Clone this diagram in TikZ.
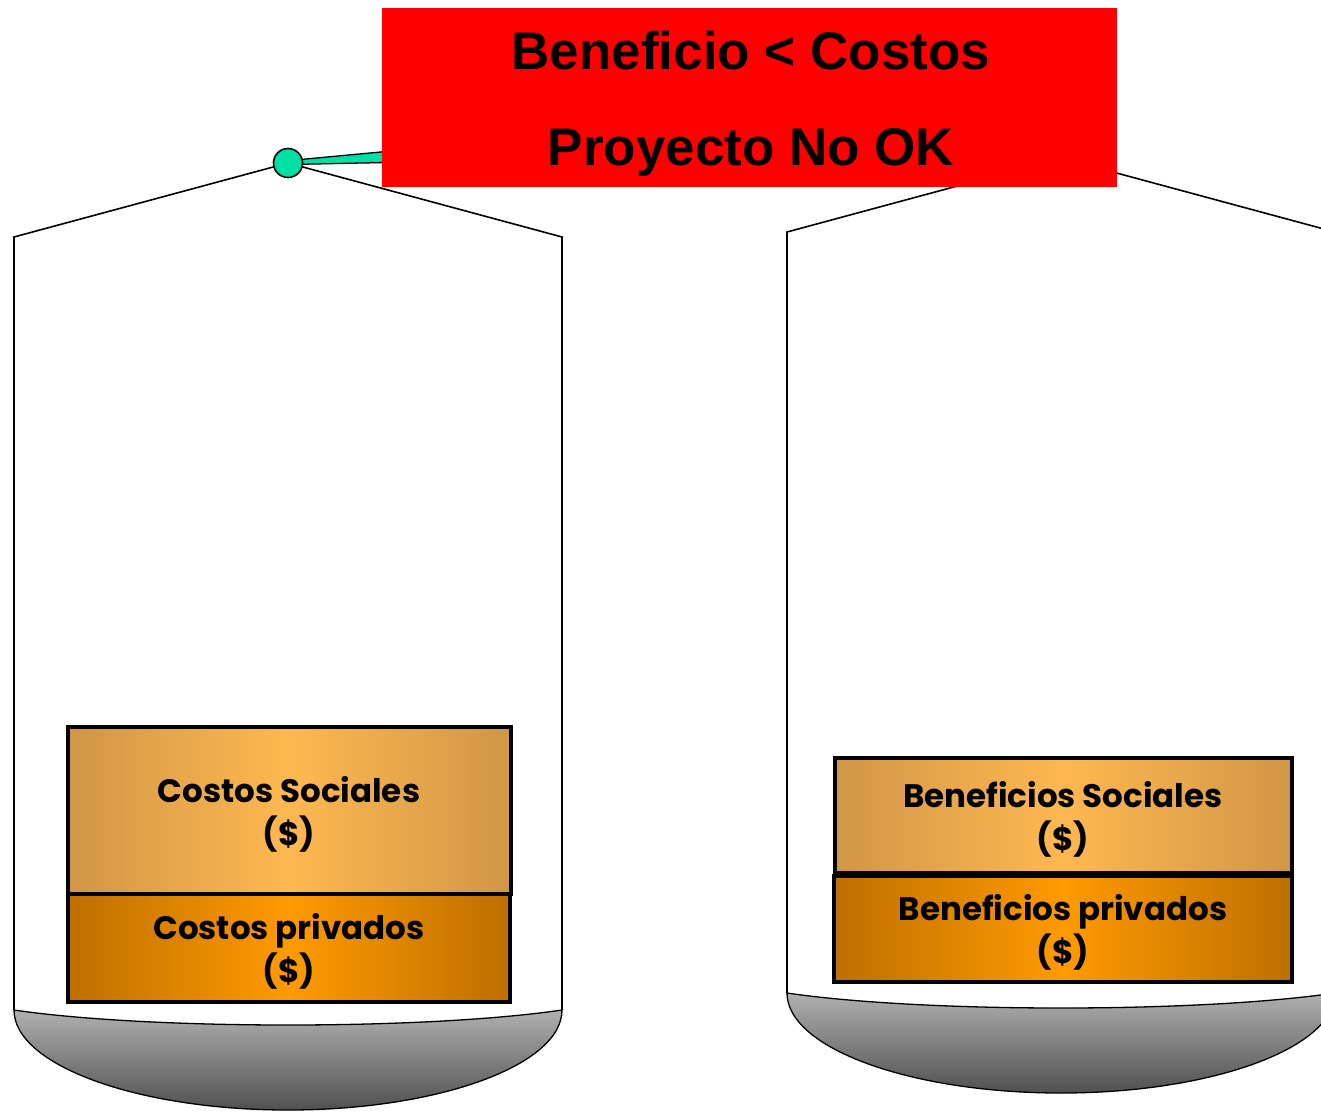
\documentclass[tikz,border=0pt]{standalone}
\usepackage{fontspec}
\newfontfamily\arialf{Liberation Sans}
\newfontfamily\futf{Poppins}
\definecolor{bowltop}{HTML}{B0B0B0}
\definecolor{bowlbot}{HTML}{505050}
\definecolor{socedge}{HTML}{D09646}
\definecolor{socmid}{HTML}{FFB850}
\definecolor{privedge}{HTML}{BD6F00}
\definecolor{privmid}{HTML}{FF9A00}
\definecolor{beamc}{HTML}{00E0A4}
\begin{document}
\begin{tikzpicture}[x=1pt,y=-1pt,
  pan/.style={draw=black, line width=1.6pt},
  bowl/.style={draw=black, line width=1.3pt, top color=bowltop, bottom color=bowlbot},
  box/.style={draw=black, line width=4.5pt, inner sep=0pt, outer sep=0pt, anchor=north west},
  socbox/.style={box, left color=socedge, right color=socedge, middle color=socmid},
  privbox/.style={box, left color=privedge, right color=privedge, middle color=privmid},
  lbl/.style={font=\futf\bfseries\fontsize{32.5}{36}\selectfont, anchor=base, inner sep=0pt},
  ttl/.style={font=\arialf\bfseries\fontsize{53}{60}\selectfont, anchor=base, inner sep=0pt}
]
\useasboundingbox (0,0) rectangle (1321,1111);
% left pan
\draw[pan] (14,1010) -- (14,237) -- (288,163) -- (562,237) -- (562,1010);
% right pan
\draw[pan] (787,993) -- (787,232) -- (1061,158) -- (1335,232) -- (1335,993);
% boxes left
\node[socbox, minimum width=443pt, minimum height=167pt] (cs) at (68,727) {};
\node[privbox, minimum width=442pt, minimum height=108pt] (cp) at (68,894) {};
% boxes right
\node[socbox, minimum width=457pt, minimum height=115pt] (bs) at (835,758) {};
\node[privbox, minimum width=458pt, minimum height=106pt] (bp) at (834,876) {};
% bowls
\path[bowl] (14,1010) .. controls (150,1030) and (426,1030) .. (562,1010)
  .. controls (562,1065) and (439,1110) .. (288,1110)
  .. controls (137,1110) and (14,1065) .. (14,1010) -- cycle;
\path[bowl] (787,993) .. controls (923,1013) and (1199,1013) .. (1335,993)
  .. controls (1335,1048) and (1212,1093) .. (1061,1093)
  .. controls (910,1093) and (787,1048) .. (787,993) -- cycle;
% beam
\filldraw[fill=beamc, draw=black, line width=1.3pt] (290,160.5) -- (700,122) -- (700,156) -- (290,164.5) -- cycle;
\node[circle, draw=black, fill=beamc, line width=1.6pt, minimum size=29pt, inner sep=0pt] (pivot) at (288,163) {};
% title box
\node[fill=red, minimum width=735pt, minimum height=179pt, inner sep=0pt, outer sep=0pt, anchor=north west] (title) at (382,8) {};
\node[ttl] (t1) at (751,69) {Beneficio < Costos};
\node[ttl] (t2) at (751,165) {Proyecto No OK};
% labels
\node[lbl] (cs1) at (289,802) {Costos Sociales};
\node[lbl] (cs2) at (289,845) {(\$)};
\node[lbl] (cp1) at (289,939) {Costos privados};
\node[lbl] (cp2) at (289,982) {(\$)};
\node[lbl] (bs1) at (1063,807) {Beneficios Sociales};
\node[lbl] (bs2) at (1063,850) {(\$)};
\node[lbl] (bp1) at (1063,920) {Beneficios privados};
\node[lbl] (bp2) at (1063,963) {(\$)};
\end{tikzpicture}
\end{document}
